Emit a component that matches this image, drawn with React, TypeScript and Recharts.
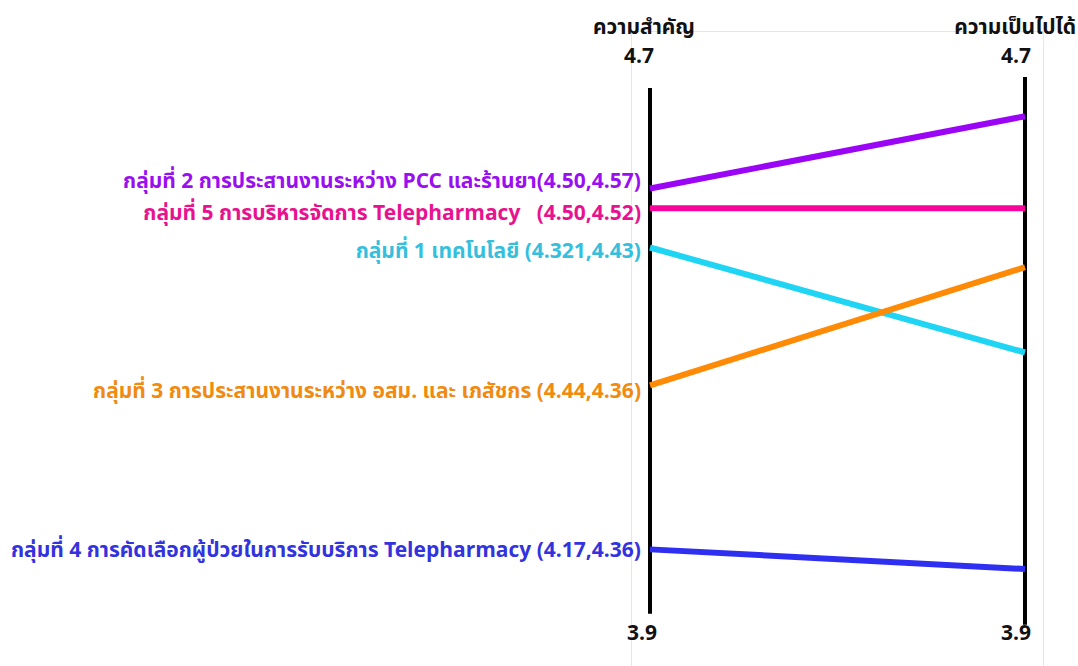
import { LineChart, Line, XAxis, YAxis, ReferenceLine, LabelList } from "recharts";

// two criteria shown as the parallel axes
const axes = ["ความสำคัญ", "ความเป็นไปได้"];

// groups in top-to-bottom order on the importance axis
const groupNames = [
  "กลุ่มที่ 2 การประสานงานระหว่าง PCC และร้านยา",
  "กลุ่มที่ 5 การบริหารจัดการ Telepharmacy   ",
  "กลุ่มที่ 1 เทคโนโลยี ",
  "กลุ่มที่ 3 การประสานงานระหว่าง อสม. และ เภสัชกร ",
  "กลุ่มที่ 4 การคัดเลือกผู้ป่วยในการรับบริการ Telepharmacy ",
];
const groupScores = ["(4.50,4.57)", "(4.50,4.52)", "(4.321,4.43)", "(4.44,4.36)", "(4.17,4.36)"];
const importance = [4.55, 4.52, 4.46, 4.25, 4.0];
const feasibility = [4.66, 4.52, 4.3, 4.43, 3.97];

const yMin = 3.9;
const yMax = 4.7;

const colors = ["#9a05f5", "#f7059b", "#1fd5f3", "#ff8a05", "#2f2ff2"];
const labelColors = ["#9a0ff0", "#e8128f", "#35bfdc", "#f08a10", "#3333dd"];
const labelShift = [-8, 5, 3, 5, 0];

const data = axes.map((axis, a) => {
  const row: Record<string, string | number> = { axis };
  groupNames.forEach((_, i) => {
    row["g" + i] = a === 0 ? importance[i] : feasibility[i];
  });
  return row;
});

const FONT = "'Noto Sans Thai', 'Noto Sans', 'DejaVu Sans', sans-serif";

const TopTick = (props: any) => {
  const { x, payload, index } = props;
  const right = index === 1;
  return (
    <g>
      <text
        x={right ? 1076 : x - 6}
        y={34}
        textAnchor={right ? "end" : "middle"}
        fontFamily={FONT}
        fontWeight="bold"
        fontSize={21}
        fill="#111"
      >
        {payload.value}
      </text>
      <text x={x - (right ? 9 : 11)} y={63} textAnchor="middle" fontFamily={FONT} fontWeight="bold" fontSize={21} fill="#111">
        {yMax.toFixed(1)}
      </text>
    </g>
  );
};

const BottomTick = (props: any) => {
  const { x, index } = props;
  return (
    <text x={x - (index === 1 ? 9 : 8)} y={640} textAnchor="middle" fontFamily={FONT} fontWeight="bold" fontSize={21} fill="#111">
      {yMin.toFixed(1)}
    </text>
  );
};

const groupLabel = (i: number) => (props: any) => {
  const { x, y, index } = props;
  if (index !== 0) return null;
  return (
    <text
      x={x - 9}
      y={y + labelShift[i]}
      dy="0.35em"
      textAnchor="end"
      fontFamily={FONT}
      fontWeight="bold"
      fontSize={21}
      fill={labelColors[i]}
      style={{ whiteSpace: "pre" }}
    >
      {groupNames[i] + groupScores[i]}
    </text>
  );
};

export default function App() {
  return (
    <div style={{ position: "absolute", left: 0, top: 0, width: 1078, height: 666, background: "#fff" }}>
      <div
        style={{
          position: "absolute",
          left: 631,
          top: 31,
          width: 411,
          height: 640,
          borderTop: "1px solid #e6e6e6",
          borderLeft: "1px solid #e6e6e6",
          borderRight: "1px solid #e6e6e6",
        }}
      />
      <LineChart
        width={1078}
        height={666}
        data={data}
        margin={{ top: 30, right: 53, bottom: 11, left: 650 }}
        style={{ position: "absolute", left: 0, top: 0 }}
      >
        <XAxis xAxisId="top" dataKey="axis" orientation="top" height={60} axisLine={false} tickLine={false} tick={<TopTick />} interval={0} />
        <XAxis dataKey="axis" height={40} axisLine={false} tickLine={false} tick={<BottomTick />} interval={0} />
        <YAxis hide domain={[yMin, yMax]} />
        <ReferenceLine
          segment={[
            { x: axes[0], y: yMax + 0.003 },
            { x: axes[0], y: yMin + 0.002 },
          ]}
          stroke="#000"
          strokeWidth={4}
          ifOverflow="visible"
        />
        <ReferenceLine
          segment={[
            { x: axes[1], y: yMax + 0.02 },
            { x: axes[1], y: yMin - 0.015 },
          ]}
          stroke="#000"
          strokeWidth={4}
          ifOverflow="visible"
        />
        {groupNames.map((_, i) => (
          <Line
            key={i}
            dataKey={"g" + i}
            stroke={colors[i]}
            strokeWidth={6}
            dot={false}
            isAnimationActive={false}
          >
            <LabelList content={groupLabel(i)} />
          </Line>
        ))}
      </LineChart>
    </div>
  );
}
